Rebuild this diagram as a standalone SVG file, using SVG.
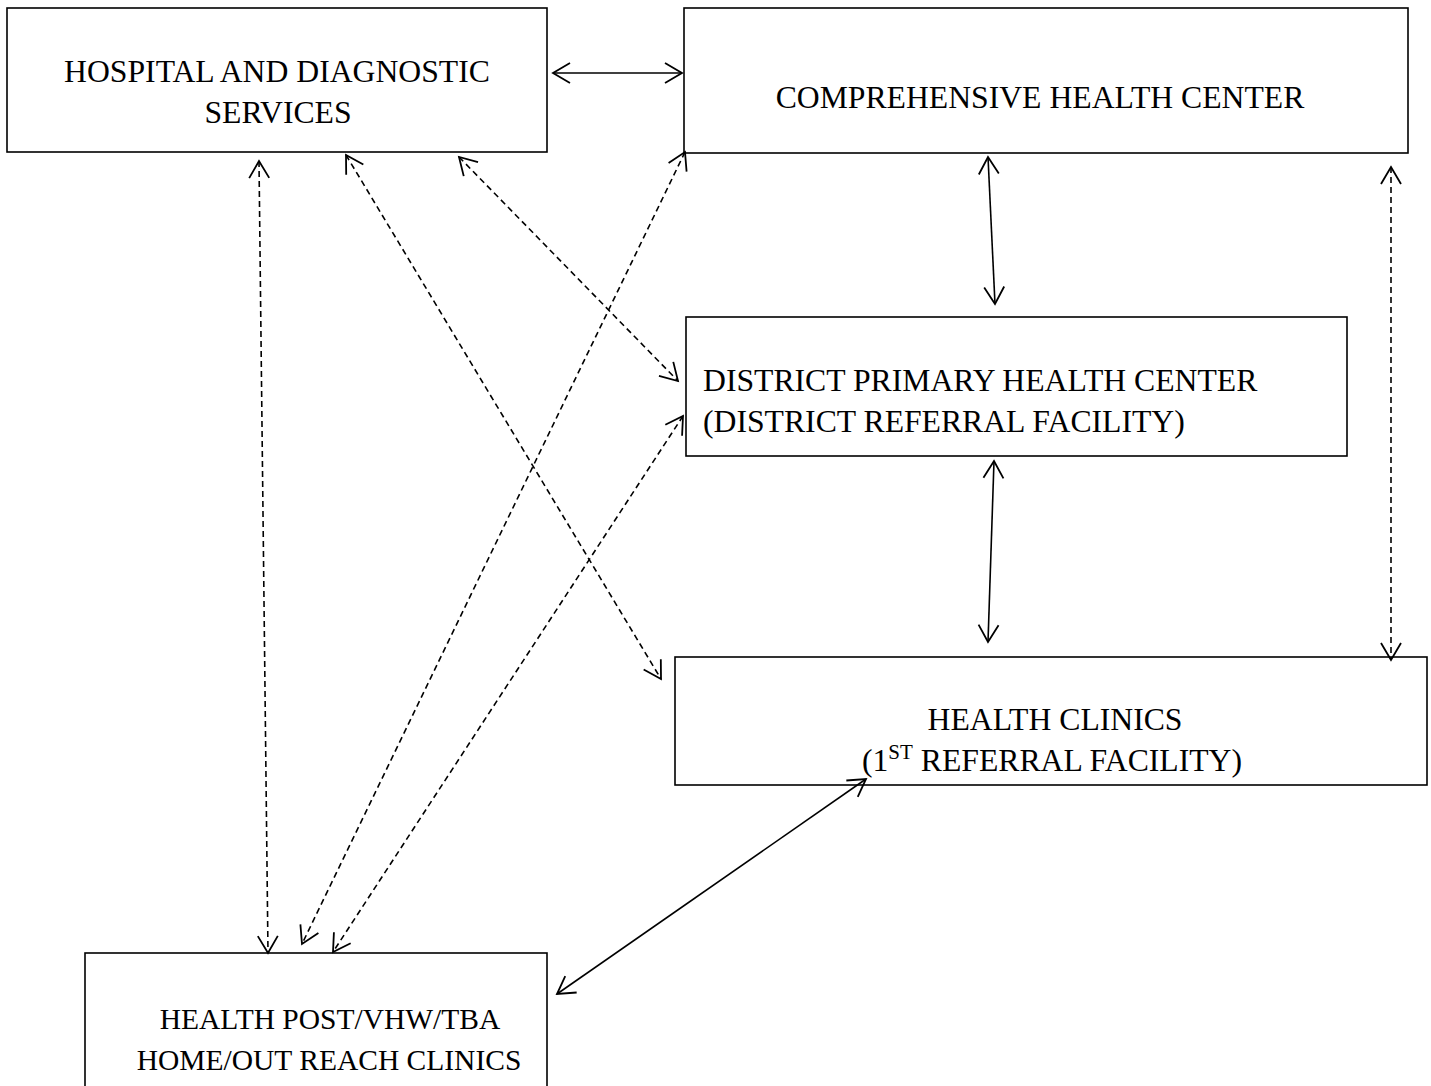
<svg xmlns="http://www.w3.org/2000/svg" width="1431" height="1086" viewBox="0 0 1431 1086">
<style>
.box{fill:#fff;stroke:#000;stroke-width:1.6}
.t{font-family:"Liberation Serif","Times New Roman",serif;font-size:31.7px;fill:#000}
.c{fill:none;stroke:#000;stroke-width:1.6}
.s{marker-start:url(#ah);marker-end:url(#ah)}
.d{stroke-dasharray:6 4}
</style>
<defs>
<marker id="ah" markerUnits="userSpaceOnUse" markerWidth="22" markerHeight="26" viewBox="0 -13 22 26" refX="19" refY="0" orient="auto-start-reverse">
<path d="M2,-10 L19,0 L2,10" fill="none" stroke="#000" stroke-width="1.8"/>
</marker>
</defs>
<rect width="1431" height="1086" fill="#fff"/>
<g id="hospital">
<rect class="box" x="7" y="8" width="540" height="144"/>
<text class="t" x="277" y="82" text-anchor="middle">HOSPITAL AND DIAGNOSTIC</text>
<text class="t" x="278" y="123" text-anchor="middle">SERVICES</text>
</g>
<g id="comprehensive">
<rect class="box" x="684" y="8" width="724" height="145"/>
<text class="t" x="1040" y="108" text-anchor="middle">COMPREHENSIVE HEALTH CENTER</text>
</g>
<g id="district">
<rect class="box" x="686" y="317" width="661" height="139"/>
<text class="t" x="703" y="391">DISTRICT PRIMARY HEALTH CENTER</text>
<text class="t" x="703" y="432">(DISTRICT REFERRAL FACILITY)</text>
</g>
<g id="clinics">
<rect class="box" x="675" y="657" width="752" height="128"/>
<text class="t" x="1055" y="730" text-anchor="middle">HEALTH CLINICS</text>
<text class="t" x="1052" y="771" text-anchor="middle">(1<tspan font-size="21" dy="-12">ST</tspan><tspan dy="12"> REFERRAL FACILITY)</tspan></text>
</g>
<g id="healthpost">
<rect class="box" x="85" y="953" width="462" height="140"/>
<text class="t" x="330" y="1029" text-anchor="middle" style="font-size:29.5px">HEALTH POST/VHW/TBA</text>
<text class="t" x="329" y="1070" text-anchor="middle" style="font-size:29.5px">HOME/OUT REACH CLINICS</text>
</g>
<g id="connectors">
<line class="c s" x1="553" y1="73" x2="682" y2="73"/>
<line class="c s" x1="988" y1="157" x2="995" y2="304"/>
<line class="c s" x1="994" y1="461" x2="988" y2="642"/>
<line class="c s" x1="866" y1="779" x2="557" y2="994"/>
<line class="c s d" x1="1391" y1="167" x2="1391" y2="660"/>
<line class="c s d" x1="259" y1="161" x2="268" y2="953"/>
<line class="c s d" x1="346" y1="155" x2="661" y2="679"/>
<line class="c s d" x1="459" y1="157" x2="678" y2="381"/>
<line class="c s d" x1="685" y1="152" x2="302" y2="944"/>
<line class="c s d" x1="683" y1="416" x2="333" y2="952"/>
</g>
</svg>
